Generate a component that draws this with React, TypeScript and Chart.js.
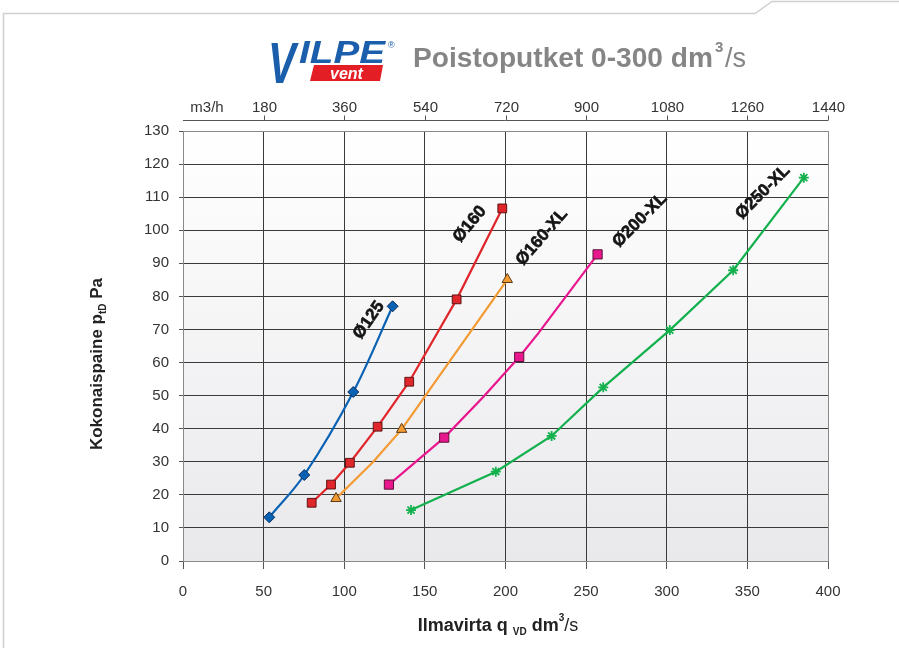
import React, { useEffect, useRef } from "react";
import { Chart, registerables } from "chart.js";

Chart.register(...registerables);

// ---- Data (flow dm3/s, pressure Pa) ----
const flow125 = [53.5, 75.2, 105.6, 130.0];
const pressure125 = [13.2, 26.0, 51.1, 77.0];

const flow160 = [79.8, 91.8, 103.5, 120.7, 140.3, 169.7, 198.0];
const pressure160 = [17.6, 23.1, 29.7, 40.6, 54.2, 79.1, 106.6];

const flow160XL = [94.9, 118.0, 135.6, 201.1];
const pressure160XL = [18.9, 30.0, 39.8, 85.1];
const marker160XL = [true, false, true, true];

const flow200XL = [127.7, 162.0, 186.2, 208.5, 220.3, 257.1];
const pressure200XL = [23.1, 37.3, 49.6, 61.7, 68.8, 92.7];
const marker200XL = [true, true, false, true, false, true];

const flow250XL = [141.4, 194.0, 228.6, 260.6, 301.9, 341.2, 385.0];
const pressure250XL = [15.4, 27.0, 37.8, 52.5, 69.8, 87.9, 115.9];

// Top axis (m3/h) ticks at flow positions
const topTickFlows = [50, 100, 150, 200, 250, 300, 350, 400];
const topTickLabels = ["180", "360", "540", "720", "900", "1080", "1260", "1440"];
const topAxisUnit = "m3/h";

// Curve labels (anchor in data coords)
const curveLabels = ["Ø125", "Ø160", "Ø160-XL", "Ø200-XL", "Ø250-XL"];
const curveLabelFlow = [115.3, 177.9, 222.6, 283.3, 359.6];
const curveLabelPressure = [72.8, 101.8, 97.9, 103.0, 111.5];
const curveLabelAngle = [-55, -50, -49, -45, -45];

const titleMain = "Poistoputket 0-300 dm";
const titleSup = "3";
const titleEnd = "/s";

const FONT = '"Liberation Sans", Arial, sans-serif';

function pts(xs: number[], ys: number[]) {
  return xs.map((x, i) => ({ x, y: ys[i] }));
}

function drawRuns(
  ctx: CanvasRenderingContext2D,
  runs: { t: string; f: string; dy: number }[],
  cx: number,
  cy: number
) {
  let total = 0;
  for (const r of runs) {
    ctx.font = r.f;
    total += ctx.measureText(r.t).width;
  }
  let x = cx - total / 2;
  for (const r of runs) {
    ctx.font = r.f;
    ctx.fillText(r.t, x, cy + r.dy);
    x += ctx.measureText(r.t).width;
  }
}

const decorPlugin = {
  id: "decor",
  beforeDraw(chart: any) {
    const { ctx, chartArea: a } = chart;
    ctx.save();
    ctx.fillStyle = "#ffffff";
    ctx.fillRect(0, 0, chart.width, chart.height);
    // frame
    ctx.strokeStyle = "#cfcfcf";
    ctx.lineWidth = 1.5;
    ctx.beginPath();
    ctx.moveTo(3.5, 648);
    ctx.lineTo(3.5, 13.5);
    ctx.lineTo(755, 13.5);
    ctx.lineTo(772, 1.5);
    ctx.lineTo(899, 1.5);
    ctx.stroke();
    // plot gradient
    const g = ctx.createLinearGradient(0, a.top, 0, a.bottom);
    g.addColorStop(0, "#ffffff");
    g.addColorStop(1, "#e9e9ec");
    ctx.fillStyle = g;
    ctx.fillRect(a.left, a.top, a.right - a.left, a.bottom - a.top);
    ctx.restore();
  },
  afterDraw(chart: any) {
    const { ctx } = chart;
    const xs = chart.scales.x;
    const ys = chart.scales.y;
    ctx.save();

    // top axis
    const ty = 120.5;
    ctx.strokeStyle = "#555";
    ctx.lineWidth = 1;
    ctx.beginPath();
    ctx.moveTo(xs.getPixelForValue(0), ty);
    ctx.lineTo(xs.getPixelForValue(400), ty);
    ctx.stroke();
    ctx.fillStyle = "#333";
    ctx.font = "15px " + FONT;
    ctx.textAlign = "center";
    ctx.textBaseline = "middle";
    topTickFlows.forEach((f, i) => {
      const px = Math.round(xs.getPixelForValue(f)) + 0.5;
      ctx.beginPath();
      ctx.moveTo(px, ty - 5);
      ctx.lineTo(px, ty);
      ctx.stroke();
      ctx.fillText(topTickLabels[i], px, 108);
    });
    ctx.fillText(topAxisUnit, 207, 108);

    // curve labels
    ctx.fillStyle = "#151515";
    ctx.strokeStyle = "#151515";
    ctx.lineWidth = 0.6;
    ctx.font = "bold 17px " + FONT;
    curveLabels.forEach((t, i) => {
      const px = xs.getPixelForValue(curveLabelFlow[i]);
      const py = ys.getPixelForValue(curveLabelPressure[i]);
      ctx.save();
      ctx.translate(px, py);
      ctx.rotate((curveLabelAngle[i] * Math.PI) / 180);
      ctx.textAlign = "center";
      ctx.textBaseline = "middle";
      ctx.fillText(t, 0, 0);
      ctx.strokeText(t, 0, 0);
      ctx.restore();
    });

    // y title
    ctx.fillStyle = "#222";
    ctx.textAlign = "left";
    ctx.textBaseline = "middle";
    ctx.save();
    ctx.translate(97, 364);
    ctx.rotate(-Math.PI / 2);
    drawRuns(
      ctx,
      [
        { t: "Kokonaispaine p", f: "bold 17px " + FONT, dy: 0 },
        { t: "tD", f: "bold 10px " + FONT, dy: 6 },
        { t: " Pa", f: "bold 17px " + FONT, dy: 0 },
      ],
      0,
      0
    );
    ctx.restore();

    // x title
    drawRuns(
      ctx,
      [
        { t: "Ilmavirta q ", f: "bold 18px " + FONT, dy: 0 },
        { t: "VD", f: "bold 10px " + FONT, dy: 6 },
        { t: " dm", f: "bold 18px " + FONT, dy: 0 },
        { t: "3", f: "bold 10px " + FONT, dy: -8 },
        { t: "/s", f: "18px " + FONT, dy: 0 },
      ],
      498,
      626
    );

    // title text
    ctx.fillStyle = "#858585";
    ctx.textBaseline = "alphabetic";
    ctx.font = "bold 27px " + FONT;
    const w = ctx.measureText(titleMain).width;
    const sx = 300 / w;
    ctx.save();
    ctx.translate(413, 67);
    ctx.scale(sx, 1);
    ctx.fillText(titleMain, 0, 0);
    ctx.restore();
    ctx.font = "bold 15px " + FONT;
    ctx.fillText(titleSup, 715, 52);
    ctx.font = "27px " + FONT;
    ctx.fillText(titleEnd, 725, 67);

    // logo
    ctx.fillStyle = "#1b5eab";
    ctx.save();
    ctx.translate(268, 83);
    ctx.scale(0.72, 1);
    ctx.font = "italic bold 58px " + FONT;
    ctx.fillText("V", 0, 0);
    ctx.restore();
    ctx.font = "italic bold 31px " + FONT;
    const lw = ctx.measureText("ILPE").width;
    ctx.save();
    ctx.translate(299, 63);
    ctx.scale(86 / lw, 1);
    ctx.fillText("ILPE", 0, 0);
    ctx.restore();
    ctx.fillStyle = "#e31e24";
    ctx.beginPath();
    ctx.moveTo(314, 65);
    ctx.lineTo(383, 65);
    ctx.lineTo(380, 81);
    ctx.lineTo(310, 81);
    ctx.closePath();
    ctx.fill();
    ctx.fillStyle = "#ffffff";
    ctx.font = "italic bold 16px " + FONT;
    ctx.fillText("vent", 330, 79);
    ctx.fillStyle = "#1b5eab";
    ctx.font = "9px " + FONT;
    ctx.fillText("®", 388, 48);

    ctx.restore();
  },
};

const gridColor = (edge: number[]) => (c: any) =>
  c.tick && edge.includes(c.tick.value) ? "#8a8a8a" : "#3a3a3a";

export default function App() {
  const ref = useRef<HTMLCanvasElement | null>(null);
  useEffect(() => {
    if (!ref.current) return;
    const chart = new Chart(ref.current, {
      type: "line",
      data: {
        datasets: [
          {
            label: "Ø125",
            data: pts(flow125, pressure125),
            borderColor: "#0a62b4",
            backgroundColor: "#0a62b4",
            pointBackgroundColor: "#0a62b4",
            pointBorderColor: "#0b2d5c",
            pointBorderWidth: 1,
            pointStyle: "rectRot",
            pointRadius: 5.5,
            borderWidth: 2.2,
            tension: 0.35,
          },
          {
            label: "Ø160",
            data: pts(flow160, pressure160),
            borderColor: "#e0262a",
            backgroundColor: "#e0262a",
            pointBackgroundColor: "#e0262a",
            pointBorderColor: "#5e1414",
            pointBorderWidth: 1,
            pointStyle: "rect",
            pointRadius: 6.2,
            borderWidth: 2.2,
            tension: 0,
          },
          {
            label: "Ø160-XL",
            data: pts(flow160XL, pressure160XL),
            borderColor: "#f49a32",
            backgroundColor: "#f49a32",
            pointBackgroundColor: "#f49a32",
            pointBorderColor: "#5a3a14",
            pointBorderWidth: 1,
            pointStyle: "triangle",
            pointRadius: marker160XL.map((m) => (m ? 6 : 0)),
            borderWidth: 2.2,
            tension: 0,
          },
          {
            label: "Ø200-XL",
            data: pts(flow200XL, pressure200XL),
            borderColor: "#e8178e",
            backgroundColor: "#e8178e",
            pointBackgroundColor: "#e8178e",
            pointBorderColor: "#5e1038",
            pointBorderWidth: 1,
            pointStyle: "rect",
            pointRadius: marker200XL.map((m) => (m ? 6.5 : 0)),
            borderWidth: 2.2,
            tension: 0,
          },
          {
            label: "Ø250-XL",
            data: pts(flow250XL, pressure250XL),
            borderColor: "#13b04e",
            backgroundColor: "#13b04e",
            pointBackgroundColor: "#13b04e",
            pointBorderColor: "#13b04e",
            pointBorderWidth: 1.8,
            pointStyle: "star",
            pointRadius: 5,
            borderWidth: 2.2,
            tension: 0,
          },
        ],
      },
      options: {
        responsive: false,
        animation: false,
        layout: { padding: { left: 0, right: 71, top: 131, bottom: 0 } },
        plugins: {
          legend: { display: false },
          tooltip: { enabled: false },
          title: { display: false },
        },
        scales: {
          x: {
            type: "linear",
            min: 0,
            max: 400,
            ticks: {
              stepSize: 50,
              color: "#333",
              font: { family: FONT, size: 15 },
              padding: 14,
              maxRotation: 0,
            },
            grid: {
              color: gridColor([0, 400]),
              lineWidth: 1,
              tickLength: 8,
              tickColor: "#555",
            },
            border: { display: true, color: "#8a8a8a" },
            afterFit: (s: any) => {
              s.height = 87;
            },
          },
          y: {
            min: 0,
            max: 130,
            ticks: {
              stepSize: 10,
              color: "#333",
              font: { family: FONT, size: 15 },
              padding: 10,
            },
            grid: {
              color: gridColor([0, 130]),
              lineWidth: 1,
              tickLength: 4,
              tickColor: "#555",
            },
            border: { display: true, color: "#8a8a8a" },
            afterFit: (s: any) => {
              s.width = 183;
            },
          },
        },
      },
      plugins: [decorPlugin],
    });
    return () => chart.destroy();
  }, []);
  return (
    <div
      style={{
        position: "fixed",
        left: 0,
        top: 0,
        width: 899,
        height: 648,
        background: "#fff",
      }}
    >
      <canvas ref={ref} width={899} height={648} style={{ display: "block" }} />
    </div>
  );
}
